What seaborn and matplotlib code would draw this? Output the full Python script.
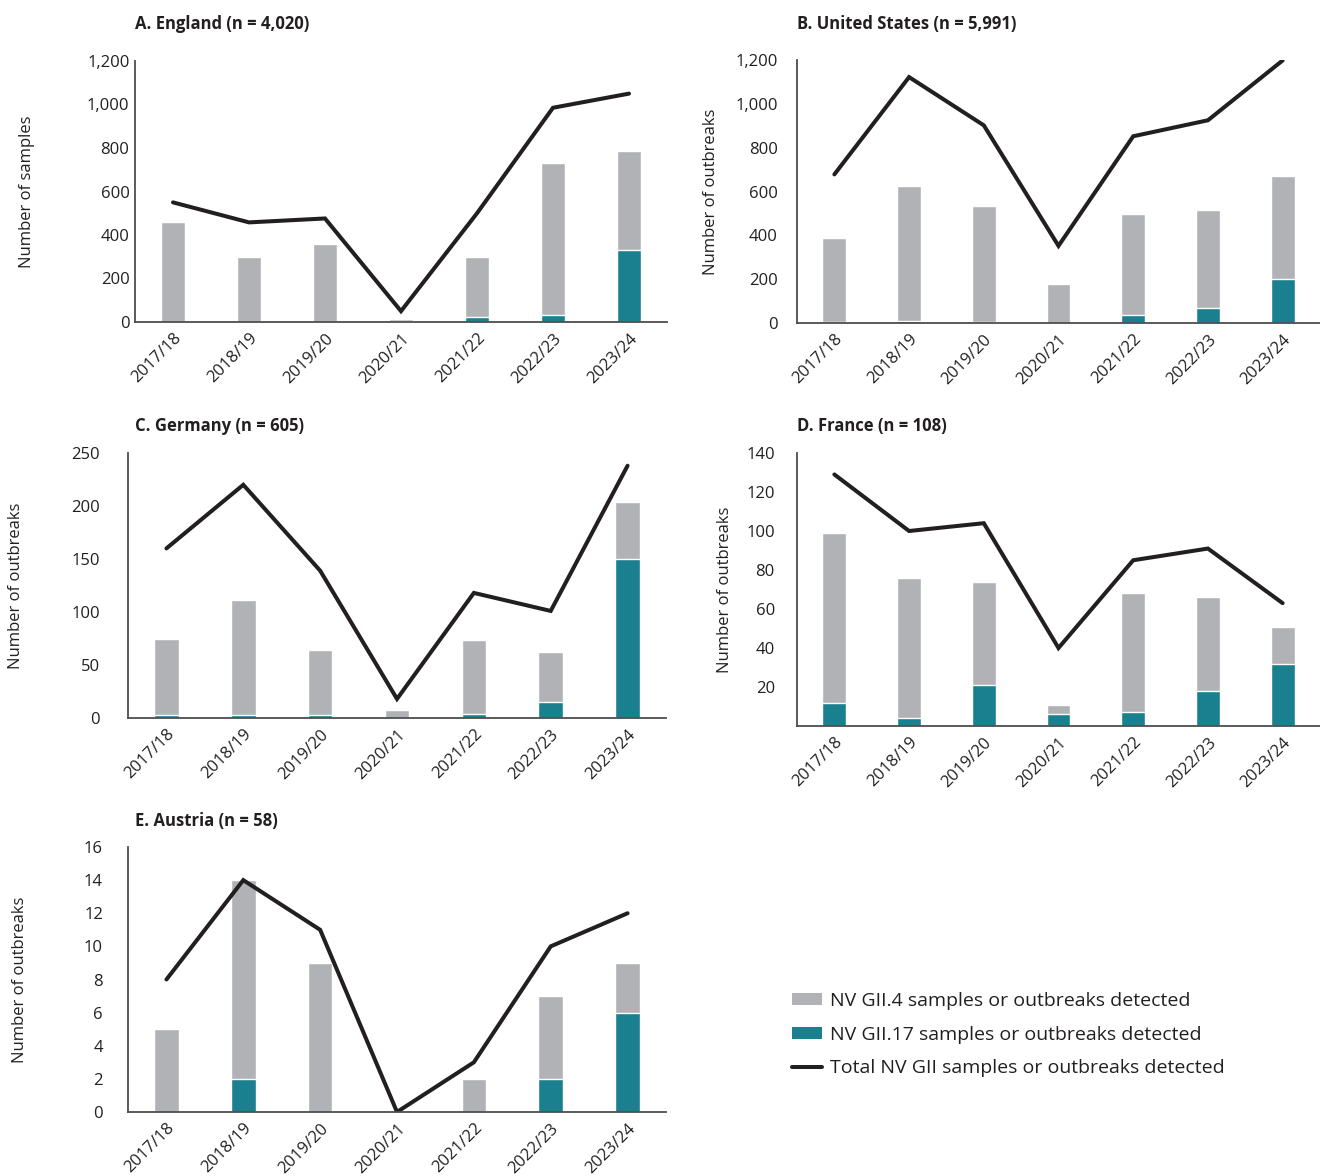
import matplotlib
matplotlib.use("Agg")
import matplotlib.pyplot as plt
from matplotlib import font_manager
from matplotlib.patches import Patch
from matplotlib.lines import Line2D
import pandas as pd
import seaborn as sns

# Seasons on the x axis
seasons = ["2017/18", "2018/19", "2019/20", "2020/21", "2021/22", "2022/23", "2023/24"]

# England (samples)
england_gii4 = [461, 301, 357, 12, 272, 697, 454]
england_gii17 = [0, 0, 0, 3, 25, 32, 332]
england_total = [550, 458, 476, 50, 500, 985, 1050]

# United States (outbreaks)
us_gii4 = [382, 615, 528, 179, 462, 444, 472]
us_gii17 = [6, 10, 4, 0, 35, 70, 199]
us_total = [678, 1122, 902, 352, 852, 925, 1198]

# Germany (outbreaks)
germany_gii4 = [72, 108, 61, 8, 70, 47, 54]
germany_gii17 = [3, 3, 3, 0, 4, 15, 150]
germany_total = [160, 220, 139, 18, 118, 101, 238]

# France (outbreaks)
france_gii4 = [87, 72, 53, 5, 61, 48, 19]
france_gii17 = [12, 4, 21, 6, 7, 18, 32]
france_total = [129, 100, 104, 40, 85, 91, 63]

# Austria (outbreaks)
austria_gii4 = [5, 12, 9, 0, 2, 5, 3]
austria_gii17 = [0, 2, 0, 0, 0, 2, 6]
austria_total = [8, 14, 11, 0, 3, 10, 12]

titles = ["A. England (n = 4,020)", "B. United States (n = 5,991)", "C. Germany (n = 605)",
          "D. France (n = 108)", "E. Austria (n = 58)"]
ylabels = ["Number of samples", "Number of outbreaks", "Number of outbreaks",
           "Number of outbreaks", "Number of outbreaks"]
legend_labels = ["NV GII.4 samples or outbreaks detected",
                 "NV GII.17 samples or outbreaks detected",
                 "Total NV GII samples or outbreaks detected"]

GREY = "#b1b2b5"
TEAL = "#1a7f8e"
BLACK = "#231f20"
AXIS = "#4d4d4d"

sns.set_theme(style="white")
plt.rcParams["font.family"] = ["Open Sans", "DejaVu Sans"]
names = {f.name for f in font_manager.fontManager.ttflist}
title_font = "Liberation Sans Narrow" if "Liberation Sans Narrow" in names else "Open Sans"

W, H = 1320, 1176
fig = plt.figure(figsize=(W / 100, H / 100), dpi=100)

# panel settings: data, axes box in pixels (left, right, top, bottom), y ticks, tick pad, ylabel x, title pos
panels = [
    (england_gii4, england_gii17, england_total, (135, 667, 61, 322), list(range(0, 1201, 200)), 4, 27, (135, 24)),
    (us_gii4, us_gii17, us_total, (797, 1320, 60, 323), list(range(0, 1201, 200)), 14, 711, (797, 24)),
    (germany_gii4, germany_gii17, germany_total, (128, 666, 453, 718), list(range(0, 251, 50)), 20, 16, (135, 426)),
    (france_gii4, france_gii17, france_total, (797, 1320, 453, 726), list(range(0, 141, 20)), 16, 725, (797, 426)),
    (austria_gii4, austria_gii17, austria_total, (128, 666, 847, 1112), list(range(0, 17, 2)), 18, 20, (135, 821)),
]

for i, (g4, g17, tot, box, yticks, pad, ylab_x, tpos) in enumerate(panels):
    l, r, t, b = box
    ax = fig.add_axes([l / W, 1 - b / H, (r - l) / W, (b - t) / H])
    df = pd.DataFrame({"season": seasons, "gii4": g4, "gii17": g17, "total": tot})
    df["stack"] = df["gii4"] + df["gii17"]

    sns.barplot(data=df, x="season", y="stack", color=GREY, width=0.32, saturation=1, ax=ax)
    sns.barplot(data=df, x="season", y="gii17", color=TEAL, width=0.32, saturation=1, ax=ax)
    sns.pointplot(data=df, x="season", y="total", color=BLACK, markers="", linewidth=2.9,
                  errorbar=None, ax=ax)
    ax.lines[-1].set_solid_joinstyle("miter")

    ax.set_xlim(-0.5, 6.5)
    ax.set_ylim(yticks[0], yticks[-1])
    ax.set_yticks(yticks)
    if i == 3:
        ax.set_yticklabels([""] + [str(v) for v in yticks[1:]])
    else:
        ax.set_yticklabels([f"{v:,}" for v in yticks])
    ax.tick_params(axis="y", length=0, pad=pad, labelsize=12, colors="#231f20")
    ax.tick_params(axis="x", length=0, pad=6, labelsize=12, colors="#231f20")
    for lab in ax.get_xticklabels():
        lab.set_rotation(45)
        lab.set_ha("right")
        lab.set_rotation_mode("anchor")
    sns.despine(ax=ax)
    for s in ["left", "bottom"]:
        ax.spines[s].set_color(AXIS)
        ax.spines[s].set_linewidth(1.3)
    ax.set_xlabel("")
    ax.set_ylabel(ylabels[i], fontsize=12, color="#231f20", va="center", ha="center")
    ax.yaxis.set_label_coords(ylab_x / W, 1 - ((t + b) / 2) / H, transform=fig.transFigure)

    fig.text(tpos[0] / W, 1 - tpos[1] / H, titles[i], fontsize=12, fontweight="bold",
             family=title_font, color="#231f20", ha="left", va="center")

handles = [Patch(facecolor=GREY, edgecolor="none"),
           Patch(facecolor=TEAL, edgecolor="none"),
           Line2D([0], [0], color=BLACK, linewidth=2.9)]
fig.legend(handles, legend_labels, loc="upper left", bbox_to_anchor=(792 / W, 1 - 992 / H),
           frameon=False, fontsize=14, handlelength=1.55, handleheight=0.55,
           labelspacing=0.8, handletextpad=0.4, borderpad=0, borderaxespad=0,
           labelcolor="#231f20")

fig.savefig("out.png", dpi=100)
